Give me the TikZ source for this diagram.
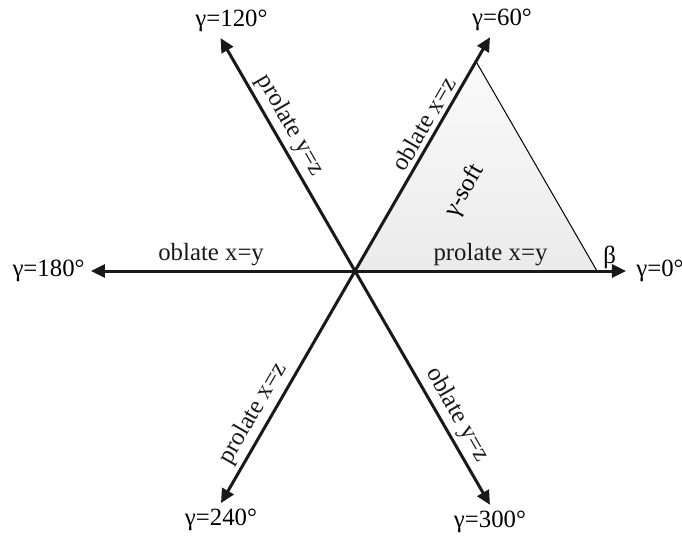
\documentclass[tikz,border=0pt]{standalone}
\usepackage{fontspec}
\setmainfont{Liberation Serif}
\usetikzlibrary{positioning,arrows.meta}

\begin{document}
\begin{tikzpicture}[x=0.5pt,y=0.5pt,font=\fontsize{12.4}{15}\selectfont,>={Triangle[length=7pt,width=6.5pt]},
  axis/.style={->,line width=1.5pt,black!90},
  lab/.style={inner sep=2pt},
  along/.style={sloped,above,inner sep=2pt}]
\useasboundingbox (-355,-272) rectangle (327,271);
\coordinate (O) at (0,0);
\coordinate (t0) at (0:271);
\coordinate (t60) at (60:270);
\coordinate (t120) at (120:269);
\coordinate (t180) at (180:264);
\coordinate (t240) at (240:268);
\coordinate (t300) at (300:270);
\coordinate (sB) at (0:242);
\coordinate (sT) at (60:242);
% gamma-soft region
\shade[top color=gray!4,bottom color=gray!16](O)--(sB)--(sT)--cycle;
\draw[line width=0.5pt](sB)--(sT);
\node[lab,rotate=60](soft) at (110,80){γ-soft};
\node[lab,anchor=south west,inner sep=1pt,xshift=2pt](beta) at (sB){β};
% axes
\draw[axis](O)--(t0) node[along,pos=0.5]{prolate x=y};
\draw[axis](O)--(t60) node[along,pos=0.6]{oblate x=z};
\draw[axis](O)--(t120) node[along,pos=0.59]{prolate y=z};
\draw[axis](O)--(t180) node[along,pos=0.545]{oblate x=y};
\draw[axis](O)--(t240) node[along,pos=0.65]{prolate x=z};
\draw[axis](O)--(t300) node[along,pos=0.65]{oblate y=z};
% gamma values
\node[lab,right=3pt of t0](g0){γ=0°};
\node[lab,above=1pt of t60,xshift=6pt](g60){γ=60°};
\node[lab,above=1pt of t120,xshift=5.5pt](g120){γ=120°};
\node[lab,left=1pt of t180](g180){γ=180°};
\node[lab,below=1pt of t240](g240){γ=240°};
\node[lab,below=1pt of t300](g300){γ=300°};
\end{tikzpicture}
\end{document}
